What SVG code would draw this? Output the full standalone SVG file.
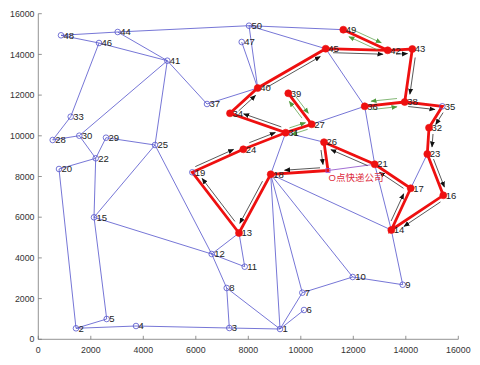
<svg xmlns="http://www.w3.org/2000/svg" width="480" height="365" viewBox="0 0 480 365">
<defs>
<style>
.e{stroke:#5353cc;stroke-width:0.8;fill:none}
.e0{stroke:#8a4ac8;stroke-width:0.8;fill:none}
.r{stroke:#ee1010;stroke-width:2.8;fill:none;stroke-linecap:round}
.a{stroke:#111;stroke-width:0.7;fill:none;marker-end:url(#ah)}
.g{stroke:#4f9a3c;stroke-width:0.7;fill:none;marker-end:url(#gh)}
.nb{fill:none;stroke:#5353cc;stroke-width:0.8}
.nr{fill:#ee1010;stroke:#ee1010;stroke-width:0.6}
.lb{font-family:"Liberation Sans",Arial,sans-serif;font-size:9.5px;fill:#222}
.tk{font-family:"Liberation Sans",Arial,sans-serif;font-size:8.8px;fill:#333}
.ax{stroke:#777;stroke-width:0.8;fill:none}
</style>
<marker id="ah" markerWidth="7" markerHeight="7" refX="5.5" refY="3.5" orient="auto" markerUnits="userSpaceOnUse"><path d="M0,1 L6,3.5 L0,6 Z" fill="#111"/></marker>
<marker id="gh" markerWidth="7" markerHeight="7" refX="5.5" refY="3.5" orient="auto" markerUnits="userSpaceOnUse"><path d="M0,1 L6,3.5 L0,6 Z" fill="#4f9a3c"/></marker>
</defs>
<rect width="480" height="365" fill="#fff"/>
<g id="axes">
<path class="ax" d="M38.3,13.7 V339.3 H458.3"/>
<path class="ax" d="M38.3,339.3 h3.5 M38.3,298.6 h3.5 M38.3,257.9 h3.5 M38.3,217.2 h3.5 M38.3,176.5 h3.5 M38.3,135.8 h3.5 M38.3,95.1 h3.5 M38.3,54.4 h3.5 M38.3,13.7 h3.5"/>
<path class="ax" d="M38.3,339.3 v-3.5 M90.8,339.3 v-3.5 M143.3,339.3 v-3.5 M195.8,339.3 v-3.5 M248.3,339.3 v-3.5 M300.8,339.3 v-3.5 M353.3,339.3 v-3.5 M405.8,339.3 v-3.5 M458.3,339.3 v-3.5"/>
<g class="tk" text-anchor="end">
<text x="34.5" y="342.4">0</text><text x="34.5" y="301.7">2000</text><text x="34.5" y="261">4000</text><text x="34.5" y="220.3">6000</text><text x="34.5" y="179.6">8000</text><text x="34.5" y="138.9">10000</text><text x="34.5" y="98.2">12000</text><text x="34.5" y="57.5">14000</text><text x="34.5" y="16.8">16000</text>
</g>
<g class="tk" text-anchor="middle">
<text x="38.3" y="352.6">0</text><text x="90.8" y="352.6">2000</text><text x="143.3" y="352.6">4000</text><text x="195.8" y="352.6">6000</text><text x="248.3" y="352.6">8000</text><text x="300.8" y="352.6">10000</text><text x="353.3" y="352.6">12000</text><text x="405.8" y="352.6">14000</text><text x="458.3" y="352.6">16000</text>
</g>
</g>
<g id="connectors">
<g id="edges">
<path class="e" d="M61,35.3 L117.7,32 M61,35.3 L99,43 M99,43 L167.3,60.7 M117.7,32 L249,25.7 M117.7,32 L167.3,60.7 M99,43 L70.7,116.7 M167.3,60.7 L207,104 M167.3,60.7 L79.3,135.7 M167.3,60.7 L155,145 M249,25.7 L343.3,29.7 M241.7,42 L257.7,88 M249,25.7 L257.7,88 M249,25.7 L325.7,48.7 M207,104 L257.7,88 M325.7,48.7 L364.7,106.3 M70.7,116.7 L52.7,140 M52.7,140 L79.3,135.7 M79.3,135.7 L95.7,158.3 M106,137.7 L95.7,158.3 M106,137.7 L155,145 M95.7,158.3 L59,169 M95.7,158.3 L94,217.3 M155,145 L94,217.3 M59,169 L76,328.3 M94,217.3 L106.7,319 M76,328.3 L106.7,319 M76,328.3 L136,326 M136,326 L229.3,328 M229.3,328 L280,329 M229.3,328 L226.7,288 M226.7,288 L211.7,254 M226.7,288 L280,329 M211.7,254 L244.7,266.7 M211.7,254 L239,233 M244.7,266.7 L239,233 M155,145 L211.7,254 M94,217.3 L211.7,254 M270.7,174.3 L280,329 M270.7,174.3 L302.3,292.7 M270.7,174.3 L352.7,277 M270.7,174.3 L391.3,230 M285.7,132.7 L270.7,174.3 M285.7,132.7 L324,142.2 M311.7,124.3 L364.7,106.3 M364.7,106.3 L374.7,164.3 M374.7,164.3 L391.3,230 M427.3,154 L410.7,188.3 M391.3,230 L402.7,284.7 M352.7,277 L402.7,284.7 M302.3,292.7 L352.7,277 M302.3,292.7 L280,329 M304,310 L280,329"/>
<path class="e0" d="M328,170.5 L374.7,164.3"/>
</g>
<g id="route">
<path class="r" d="M328,170.5 L270.7,174.3 L239,233 L192.3,172.3 L243.3,149.3 L285.7,132.7 L230,113.3 L257.7,88 L325.7,48.7 L387.7,50.3 L412.3,49 L404.7,102 L442.3,106.3 L429,127.7 L427.3,154 L443.3,195.3 L391.3,230 L410.7,188.3 L374.7,164.3 L324,142.2 Z"/>
<path class="r" d="M387.7,50.3 L343.3,29.7 M404.7,102 L364.7,106.3 M285.7,132.7 L311.7,124.3 L288.3,93.3"/>
</g>
<g id="arrows">
<path class="a" d="M320,167.8 L284.5,170.2"/>
<path class="a" d="M262.5,181.2 L239.8,223.4"/>
<path class="a" d="M234.9,221.4 L202.1,178.5"/>
<path class="a" d="M195.3,166.6 L233.6,149.4"/>
<path class="a" d="M249.3,142.7 L275.4,132.5"/>
<path class="a" d="M281.3,126.9 L243.6,113.8"/>
<path class="a" d="M238.6,110.9 L255.6,95.4"/>
<path class="a" d="M266.6,87.5 L320.3,56.5"/>
<path class="a" d="M333,52.7 L383,54.2"/>
<path class="a" d="M396,54.2 L407.5,53.6"/>
<path class="a" d="M415.2,57.5 L409.9,94.2"/>
<path class="a" d="M408.2,106.5 L435,109.5"/>
<path class="a" d="M443.1,112.6 L435.7,124.5"/>
<path class="a" d="M433,134 L432,147"/>
<path class="a" d="M433.5,159.1 L444.4,187.1"/>
<path class="a" d="M440.5,201.9 L403.9,226.4"/>
<path class="a" d="M391.1,221 L403.7,193.8"/>
<path class="a" d="M403.5,188.3 L379.4,172.2"/>
<path class="a" d="M367.6,165.6 L330.9,149.6"/>
<path class="a" d="M321,150 L323,164.5"/>
<path class="g" d="M352.3,29.5 L381.3,42.9"/>
<path class="g" d="M377.9,50.1 L348.9,36.7"/>
<path class="g" d="M397,98.5 L371,101.2"/>
<path class="g" d="M372,109.5 L397,106.8"/>
<path class="g" d="M289.4,127.9 L305.5,122.7"/>
<path class="g" d="M307.7,129.3 L291.6,134.5"/>
<path class="g" d="M302,118.1 L289.3,101.3"/>
<path class="g" d="M295.7,96.5 L308.4,113.3"/>
</g>
</g>
<g id="nodes">
<g id="n0"><rect x="326" y="168.5" width="4" height="4" fill="none" stroke="#9a4ad0" stroke-width="0.8"/><text x="328.5" y="181.2" font-family="'Liberation Sans','Noto Sans CJK SC',sans-serif" font-size="9.5" fill="#dd2c3c">O点快递公司</text></g>
<g id="n1"><circle class="nb" cx="280" cy="329" r="2.8"/><text class="lb" x="282.5" y="332.2">1</text></g>
<g id="n2"><circle class="nb" cx="76" cy="328.3" r="2.8"/><text class="lb" x="78.5" y="331.5">2</text></g>
<g id="n3"><circle class="nb" cx="229.3" cy="328" r="2.8"/><text class="lb" x="231.8" y="331.2">3</text></g>
<g id="n4"><circle class="nb" cx="136" cy="326" r="2.8"/><text class="lb" x="138.5" y="329.2">4</text></g>
<g id="n5"><circle class="nb" cx="106.7" cy="319" r="2.8"/><text class="lb" x="109.2" y="322.2">5</text></g>
<g id="n6"><circle class="nb" cx="304" cy="310" r="2.8"/><text class="lb" x="306.5" y="313.2">6</text></g>
<g id="n7"><circle class="nb" cx="302.3" cy="292.7" r="2.8"/><text class="lb" x="304.8" y="295.9">7</text></g>
<g id="n8"><circle class="nb" cx="226.7" cy="288" r="2.8"/><text class="lb" x="229.2" y="291.2">8</text></g>
<g id="n9"><circle class="nb" cx="402.7" cy="284.7" r="2.8"/><text class="lb" x="405.2" y="287.9">9</text></g>
<g id="n10"><circle class="nb" cx="352.7" cy="277" r="2.8"/><text class="lb" x="355.2" y="280.2">10</text></g>
<g id="n11"><circle class="nb" cx="244.7" cy="266.7" r="2.8"/><text class="lb" x="247.2" y="269.9">11</text></g>
<g id="n12"><circle class="nb" cx="211.7" cy="254" r="2.8"/><text class="lb" x="214.2" y="257.2">12</text></g>
<g id="n13"><circle class="nr" cx="239" cy="233" r="3.5"/><text class="lb" x="241.5" y="236.2">13</text></g>
<g id="n14"><circle class="nr" cx="391.3" cy="230" r="3.5"/><text class="lb" x="393.8" y="233.2">14</text></g>
<g id="n15"><circle class="nb" cx="94" cy="217.3" r="2.8"/><text class="lb" x="96.5" y="220.5">15</text></g>
<g id="n16"><circle class="nr" cx="443.3" cy="195.3" r="3.5"/><text class="lb" x="445.8" y="198.5">16</text></g>
<g id="n17"><circle class="nr" cx="410.7" cy="188.3" r="3.5"/><text class="lb" x="413.2" y="191.5">17</text></g>
<g id="n18"><circle class="nr" cx="270.7" cy="174.3" r="3.5"/><text class="lb" x="273.2" y="177.5">18</text></g>
<g id="n19"><circle class="nb" cx="192.3" cy="172.3" r="2.8"/><text class="lb" x="194.8" y="175.5">19</text></g>
<g id="n20"><circle class="nb" cx="59" cy="169" r="2.8"/><text class="lb" x="61.5" y="172.2">20</text></g>
<g id="n21"><circle class="nr" cx="374.7" cy="164.3" r="3.5"/><text class="lb" x="377.2" y="166.5">21</text></g>
<g id="n22"><circle class="nb" cx="95.7" cy="158.3" r="2.8"/><text class="lb" x="98.2" y="161.5">22</text></g>
<g id="n23"><circle class="nr" cx="427.3" cy="154" r="3.5"/><text class="lb" x="429.8" y="157.2">23</text></g>
<g id="n24"><circle class="nr" cx="243.3" cy="149.3" r="3.5"/><text class="lb" x="245.8" y="152.5">24</text></g>
<g id="n25"><circle class="nb" cx="155" cy="145" r="2.8"/><text class="lb" x="157.5" y="148.2">25</text></g>
<g id="n26"><circle class="nr" cx="324" cy="142.2" r="3.5"/><text class="lb" x="326.5" y="144.9">26</text></g>
<g id="n27"><circle class="nr" cx="311.7" cy="124.3" r="3.5"/><text class="lb" x="314.2" y="127.5">27</text></g>
<g id="n28"><circle class="nb" cx="52.7" cy="140" r="2.8"/><text class="lb" x="55.2" y="143.2">28</text></g>
<g id="n29"><circle class="nb" cx="106" cy="137.7" r="2.8"/><text class="lb" x="108.5" y="140.9">29</text></g>
<g id="n30"><circle class="nb" cx="79.3" cy="135.7" r="2.8"/><text class="lb" x="81.8" y="138.9">30</text></g>
<g id="n31"><circle class="nr" cx="285.7" cy="132.7" r="3.5"/><text class="lb" x="288.2" y="135.9">31</text></g>
<g id="n32"><circle class="nr" cx="429" cy="127.7" r="3.5"/><text class="lb" x="431.5" y="130.9">32</text></g>
<g id="n33"><circle class="nb" cx="70.7" cy="116.7" r="2.8"/><text class="lb" x="73.2" y="119.9">33</text></g>
<g id="n34"><circle class="nr" cx="230" cy="113.3" r="3.5"/><text class="lb" x="232.5" y="116.5">34</text></g>
<g id="n35"><circle class="nb" cx="442.3" cy="106.3" r="2.8"/><text class="lb" x="444.8" y="109.5">35</text></g>
<g id="n36"><circle class="nr" cx="364.7" cy="106.3" r="3.5"/><text class="lb" x="367.2" y="109.5">36</text></g>
<g id="n37"><circle class="nb" cx="207" cy="104" r="2.8"/><text class="lb" x="209.5" y="107.2">37</text></g>
<g id="n38"><circle class="nr" cx="404.7" cy="102" r="3.5"/><text class="lb" x="407.2" y="105.2">38</text></g>
<g id="n39"><circle class="nr" cx="288.3" cy="93.3" r="3.5"/><text class="lb" x="290.8" y="96.5">39</text></g>
<g id="n40"><circle class="nr" cx="257.7" cy="88" r="3.5"/><text class="lb" x="260.2" y="91.2">40</text></g>
<g id="n41"><circle class="nb" cx="167.3" cy="60.7" r="2.8"/><text class="lb" x="169.8" y="63.9">41</text></g>
<g id="n42"><circle class="nr" cx="387.7" cy="50.3" r="3.5"/><text class="lb" x="390.2" y="53.5">42</text></g>
<g id="n43"><circle class="nr" cx="412.3" cy="49" r="3.5"/><text class="lb" x="414.8" y="52.2">43</text></g>
<g id="n44"><circle class="nb" cx="117.7" cy="32" r="2.8"/><text class="lb" x="120.2" y="35.2">44</text></g>
<g id="n45"><circle class="nr" cx="325.7" cy="48.7" r="3.5"/><text class="lb" x="328.2" y="51.9">45</text></g>
<g id="n46"><circle class="nb" cx="99" cy="43" r="2.8"/><text class="lb" x="101.5" y="46.2">46</text></g>
<g id="n47"><circle class="nb" cx="241.7" cy="42" r="2.8"/><text class="lb" x="244.2" y="45.2">47</text></g>
<g id="n48"><circle class="nb" cx="61" cy="35.3" r="2.8"/><text class="lb" x="63.5" y="38.5">48</text></g>
<g id="n49"><circle class="nr" cx="343.3" cy="29.7" r="3.5"/><text class="lb" x="345.8" y="32.9">49</text></g>
<g id="n50"><circle class="nb" cx="249" cy="25.7" r="2.8"/><text class="lb" x="251.5" y="28.9">50</text></g>
</g>
</svg>
